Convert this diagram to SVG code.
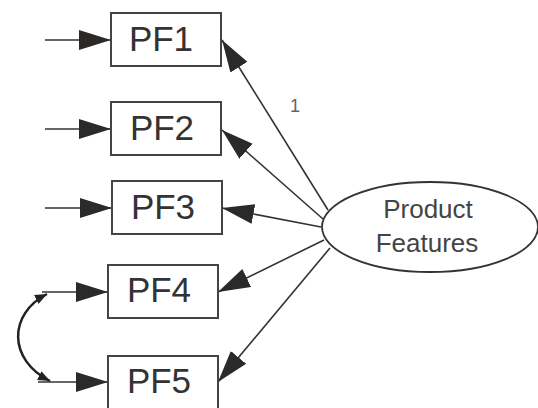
<svg xmlns="http://www.w3.org/2000/svg" width="538" height="408" viewBox="0 0 538 408">
  <defs>
    <marker id="head" viewBox="0 0 32 22" refX="32" refY="11" markerWidth="32" markerHeight="22" markerUnits="userSpaceOnUse" orient="auto">
      <path d="M0,1 L32,11 L0,21 Z" fill="#2b2a28"/>
    </marker>
    <marker id="small" viewBox="0 0 12 10" refX="12" refY="5" markerWidth="12" markerHeight="10" markerUnits="userSpaceOnUse" orient="auto-start-reverse">
      <path d="M0,0 L12,5 L0,10 Z" fill="#222"/>
    </marker>
    <style>
      .box { fill: #fff; stroke: #444; stroke-width: 2; }
      .lbl { font-family: "Liberation Sans", Arial, sans-serif; font-size: 35px; fill: #333; text-anchor: middle; }
      .lat { font-family: "Liberation Sans", Arial, sans-serif; font-size: 26px; fill: #444; text-anchor: middle; }
      .edge { stroke: #333; stroke-width: 1.6; fill: none; marker-end: url(#head); }
    </style>
  </defs>
  <rect width="538" height="408" fill="#fff"/>

  <g id="connectors">
    <!-- error terms -->
    <line class="edge" x1="45" y1="40" x2="111" y2="40"/>
    <line class="edge" x1="45" y1="129" x2="111" y2="129"/>
    <line class="edge" x1="45" y1="208" x2="112" y2="208"/>
    <line class="edge" x1="42" y1="292" x2="108" y2="292"/>
    <line class="edge" x1="38" y1="382" x2="108" y2="382"/>
    <!-- loadings -->
    <line class="edge" x1="328" y1="210" x2="222" y2="40"/>
    <line class="edge" x1="323" y1="219" x2="222" y2="130"/>
    <line class="edge" x1="321" y1="227" x2="222" y2="208"/>
    <line class="edge" x1="324" y1="240" x2="218" y2="292"/>
    <line class="edge" x1="330" y1="248" x2="218" y2="382"/>
    <!-- covariance -->
    <path d="M47,294 C8,314 8,360 50,381" stroke="#222" stroke-width="2.5" fill="none" marker-start="url(#small)" marker-end="url(#small)"/>
    <text x="290" y="112" font-family="Liberation Sans, Arial, sans-serif" font-size="18" fill="#666">1</text>
  </g>

  <g id="pf1"><rect class="box" x="111" y="13" width="110" height="53"/><text class="lbl" x="161" y="51">PF1</text></g>
  <g id="pf2"><rect class="box" x="111" y="102" width="110" height="53"/><text class="lbl" x="162" y="140">PF2</text></g>
  <g id="pf3"><rect class="box" x="112" y="181" width="110" height="53"/><text class="lbl" x="163" y="219">PF3</text></g>
  <g id="pf4"><rect class="box" x="108" y="265" width="110" height="53"/><text class="lbl" x="159" y="302">PF4</text></g>
  <g id="pf5"><rect class="box" x="108" y="356" width="110" height="53"/><text class="lbl" x="159" y="393">PF5</text></g>

  <g id="product-features">
    <ellipse cx="430" cy="227" rx="108" ry="45" fill="#fff" stroke="#333" stroke-width="1.8"/>
    <text class="lat" x="428" y="218">Product</text>
    <text class="lat" x="427" y="252">Features</text>
  </g>
</svg>
